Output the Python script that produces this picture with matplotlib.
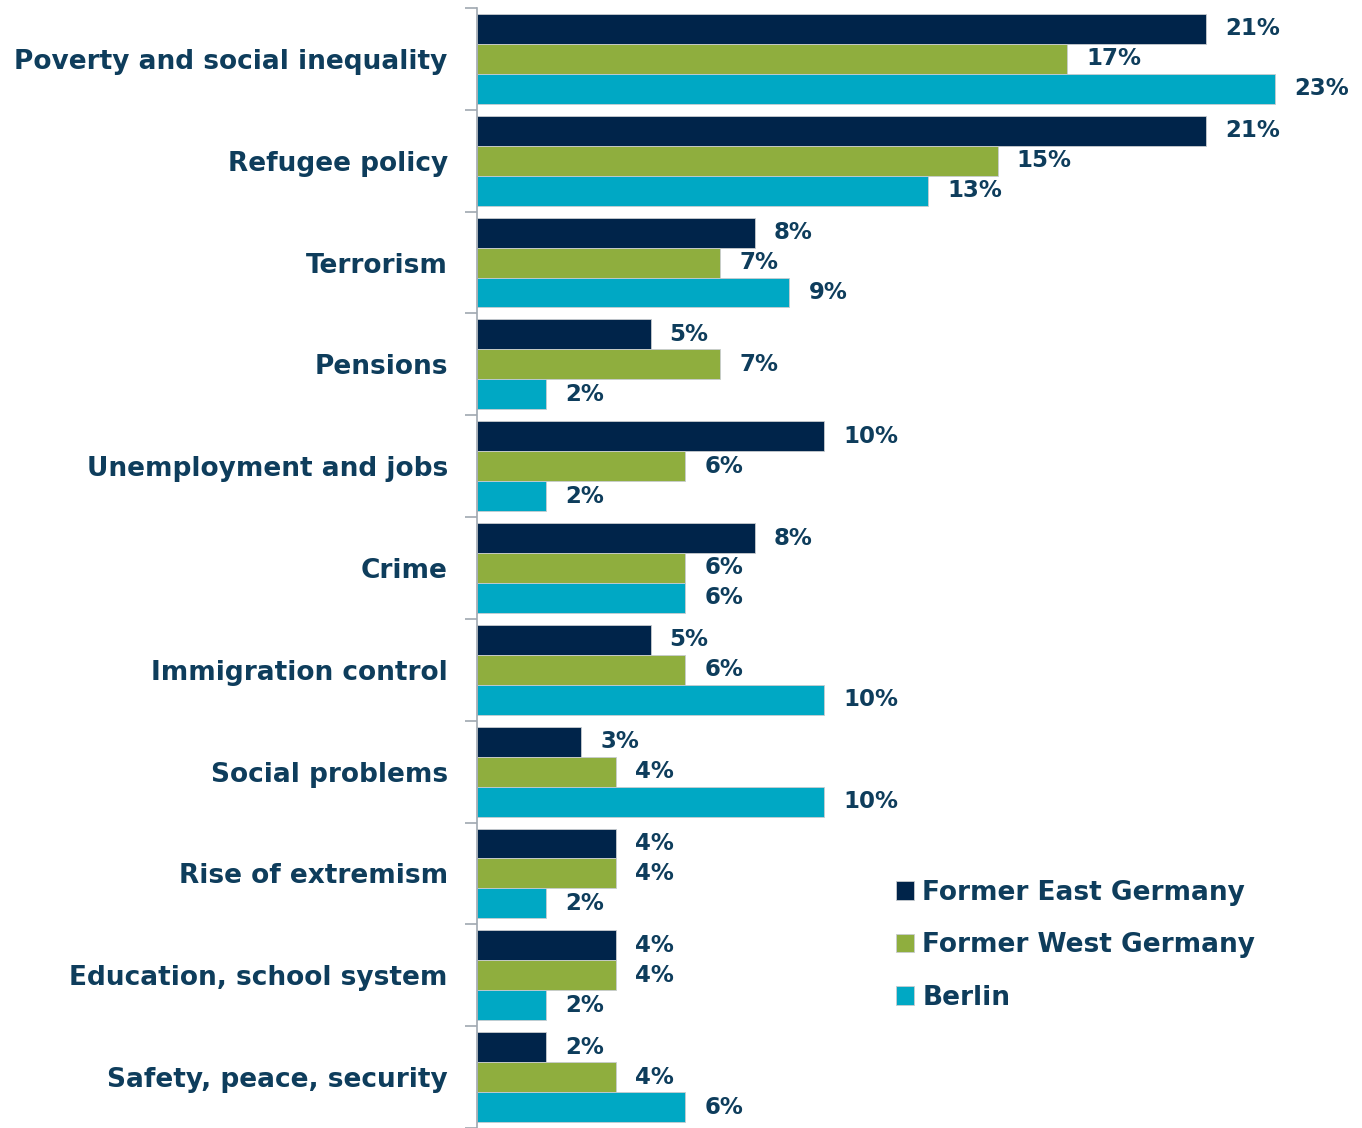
import matplotlib.pyplot as plt
import numpy as np

categories = ['Poverty and social inequality', 'Refugee policy', 'Terrorism', 'Pensions',
              'Unemployment and jobs', 'Crime', 'Immigration control', 'Social problems',
              'Rise of extremism', 'Education, school system', 'Safety, peace, security']
east = [21, 21, 8, 5, 10, 8, 5, 3, 4, 4, 2]
west = [17, 15, 7, 7, 6, 6, 6, 4, 4, 4, 4]
berlin = [23, 13, 9, 2, 2, 6, 10, 10, 2, 2, 6]
series_names = ['Former East Germany', 'Former West Germany', 'Berlin']
colors = ['#00244a', '#8fae3e', '#00a8c4']
text_color = '#0e3d5c'

plt.rcParams['font.family'] = ['DejaVu Sans']

fig = plt.figure(figsize=(13.62, 11.28), dpi=100)
ax = fig.add_axes([477 / 1362, 0.0, 1 - 477 / 1362, 1 - 8 / 1128])

y = np.arange(len(categories))
h = 0.294
for i, (vals, name, c) in enumerate(zip([east, west, berlin], series_names, colors)):
    pos = y + (i - 1) * h
    ax.barh(pos, vals, height=h, color=c, edgecolor='#c8ccd0', linewidth=0.6, label=name)
    for p, v in zip(pos, vals):
        ax.text(v + 0.55, p, f'{v}%', va='center', ha='left', fontsize=16.5,
                fontweight='bold', color=text_color)

ax.set_xlim(0, 25.5)
ax.set_ylim(len(categories) - 0.5, -0.5)
ax.set_xticks([])
ax.set_yticks(y)
ax.set_yticklabels(categories, fontsize=19, fontweight='bold', color=text_color)
ax.tick_params(axis='y', which='major', length=0, pad=21)
ax.set_yticks(np.arange(len(categories) + 1) - 0.5, minor=True)
ax.tick_params(axis='y', which='minor', length=9, color='#a0a8b0', width=1.2)
for s in ['top', 'right', 'bottom']:
    ax.spines[s].set_visible(False)
ax.spines['left'].set_color('#a0a8b0')
ax.spines['left'].set_linewidth(1.2)

leg = ax.legend(loc='upper left', bbox_to_anchor=((872 - 477) / (1362 - 477), 1 - 848 / 1120),
                frameon=False, fontsize=19, handlelength=0.7, handleheight=0.7,
                handletextpad=0.3, labelspacing=1.0)
for t in leg.get_texts():
    t.set_color(text_color)
    t.set_fontweight('bold')

fig.savefig('out.png', dpi=100)
